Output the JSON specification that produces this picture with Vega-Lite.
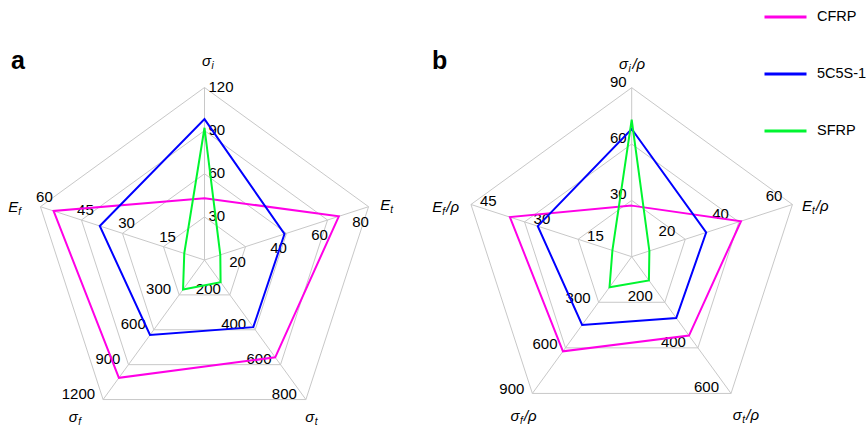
{
  "$schema": "https://vega.github.io/schema/vega-lite/v6.json",
  "padding": 0,
  "spacing": 0,
  "background": "white",
  "config": {
    "view": {"stroke": null},
    "font": "Liberation Sans",
    "text": {"font": "Liberation Sans", "color": "black"}
  },
  "datasets": {
    "series": [
      {"panel": "a", "series": "CFRP", "k": 0, "v": 43},
      {"panel": "a", "series": "CFRP", "k": 1, "v": 65.5},
      {"panel": "a", "series": "CFRP", "k": 2, "v": 558},
      {"panel": "a", "series": "CFRP", "k": 3, "v": 1013},
      {"panel": "a", "series": "CFRP", "k": 4, "v": 55.2},
      {"panel": "a", "series": "5C5S-1", "k": 0, "v": 98},
      {"panel": "a", "series": "5C5S-1", "k": 1, "v": 39},
      {"panel": "a", "series": "5C5S-1", "k": 2, "v": 385},
      {"panel": "a", "series": "5C5S-1", "k": 3, "v": 645},
      {"panel": "a", "series": "5C5S-1", "k": 4, "v": 38.3},
      {"panel": "a", "series": "SFRP", "k": 0, "v": 92},
      {"panel": "a", "series": "SFRP", "k": 1, "v": 7.7},
      {"panel": "a", "series": "SFRP", "k": 2, "v": 127},
      {"panel": "a", "series": "SFRP", "k": 3, "v": 254},
      {"panel": "a", "series": "SFRP", "k": 4, "v": 7.4},
      {"panel": "b", "series": "CFRP", "k": 0, "v": 27.2},
      {"panel": "b", "series": "CFRP", "k": 1, "v": 40.8},
      {"panel": "b", "series": "CFRP", "k": 2, "v": 346},
      {"panel": "b", "series": "CFRP", "k": 3, "v": 623},
      {"panel": "b", "series": "CFRP", "k": 4, "v": 34.1},
      {"panel": "b", "series": "5C5S-1", "k": 0, "v": 68},
      {"panel": "b", "series": "5C5S-1", "k": 1, "v": 27.8},
      {"panel": "b", "series": "5C5S-1", "k": 2, "v": 269},
      {"panel": "b", "series": "5C5S-1", "k": 3, "v": 449},
      {"panel": "b", "series": "5C5S-1", "k": 4, "v": 26.3},
      {"panel": "b", "series": "SFRP", "k": 0, "v": 73},
      {"panel": "b", "series": "SFRP", "k": 1, "v": 6.6},
      {"panel": "b", "series": "SFRP", "k": 2, "v": 104},
      {"panel": "b", "series": "SFRP", "k": 3, "v": 201},
      {"panel": "b", "series": "SFRP", "k": 4, "v": 5.4}
    ],
    "rings_a": [
      {"k": 0, "t": 30}, {"k": 0, "t": 60}, {"k": 0, "t": 90}, {"k": 0, "t": 120},
      {"k": 1, "t": 20}, {"k": 1, "t": 40}, {"k": 1, "t": 60}, {"k": 1, "t": 80},
      {"k": 2, "t": 200}, {"k": 2, "t": 400}, {"k": 2, "t": 600}, {"k": 2, "t": 800},
      {"k": 3, "t": 300}, {"k": 3, "t": 600}, {"k": 3, "t": 900}, {"k": 3, "t": 1200},
      {"k": 4, "t": 15}, {"k": 4, "t": 30}, {"k": 4, "t": 45}, {"k": 4, "t": 60}
    ],
    "rings_b": [
      {"k": 0, "t": 30}, {"k": 0, "t": 60}, {"k": 0, "t": 90},
      {"k": 1, "t": 20}, {"k": 1, "t": 40}, {"k": 1, "t": 60},
      {"k": 2, "t": 200}, {"k": 2, "t": 400}, {"k": 2, "t": 600},
      {"k": 3, "t": 300}, {"k": 3, "t": 600}, {"k": 3, "t": 900},
      {"k": 4, "t": 15}, {"k": 4, "t": 30}, {"k": 4, "t": 45}
    ],
    "titles_a": [
      {"k": 0, "main": "σ", "sub": "i"},
      {"k": 1, "main": "E", "sub": "t"},
      {"k": 2, "main": "σ", "sub": "t"},
      {"k": 3, "main": "σ", "sub": "f"},
      {"k": 4, "main": "E", "sub": "f"}
    ],
    "titles_b": [
      {"k": 0, "main": "σ", "sub": "i", "suffix": "/ρ"},
      {"k": 1, "main": "E", "sub": "t", "suffix": "/ρ"},
      {"k": 2, "main": "σ", "sub": "t", "suffix": "/ρ"},
      {"k": 3, "main": "σ", "sub": "f", "suffix": "/ρ"},
      {"k": 4, "main": "E", "sub": "f", "suffix": "/ρ"}
    ]
  },
  "resolve": {"scale": {"color": "shared"}, "legend": {"color": "shared"}},
  "hconcat": [
    {
      "width": 425,
      "height": 428,
      "title": {"text": "a", "anchor": "start", "frame": "group", "orient": "top", "offset": -94, "dx": 11, "baseline": "alphabetic", "fontSize": 25, "fontWeight": "bold", "font": "Liberation Sans", "color": "black"},
      "encoding": {
        "x": {"field": "px", "type": "quantitative", "scale": {"domain": [-1.18551, 1.27826], "nice": false, "zero": false}, "axis": null},
        "y": {"field": "py", "type": "quantitative", "scale": {"domain": [-0.97391, 1.50725], "nice": false, "zero": false}, "axis": null}
      },
      "layer": [
        {
          "data": {"name": "rings_a"},
          "transform": [
            {"calculate": "datum.t / [120,80,800,1200,60][datum.k]", "as": "f"},
            {"calculate": "datum.f * sin(datum.k * 2 * PI / 5)", "as": "px"},
            {"calculate": "datum.f * cos(datum.k * 2 * PI / 5)", "as": "py"}
          ],
          "layer": [
            {
              "mark": {"type": "line", "interpolate": "linear-closed", "color": "#c8c8c8", "strokeWidth": 1},
              "encoding": {"detail": {"field": "f", "type": "nominal"}, "order": {"field": "k", "type": "quantitative"}}
            },
            {
              "transform": [{"filter": "datum.f > 0.99"}],
              "mark": {"type": "rule", "color": "#c8c8c8", "strokeWidth": 1},
              "encoding": {"x2": {"datum": 0}, "y2": {"datum": 0}}
            },
            {"transform": [{"filter": "datum.k == 0"}], "mark": {"type": "text", "align": "left", "baseline": "middle", "dx": 4, "dy": -1, "fontSize": 15}, "encoding": {"text": {"field": "t", "type": "quantitative", "format": "d"}}},
            {"transform": [{"filter": "datum.k == 1"}], "mark": {"type": "text", "align": "center", "baseline": "middle", "dx": -8, "dy": 15, "fontSize": 15}, "encoding": {"text": {"field": "t", "type": "quantitative", "format": "d"}}},
            {"transform": [{"filter": "datum.k == 2"}], "mark": {"type": "text", "align": "right", "baseline": "middle", "dx": -9, "dy": -6, "fontSize": 15}, "encoding": {"text": {"field": "t", "type": "quantitative", "format": "d"}}},
            {"transform": [{"filter": "datum.k == 3"}], "mark": {"type": "text", "align": "right", "baseline": "middle", "dx": -8, "dy": -6, "fontSize": 15}, "encoding": {"text": {"field": "t", "type": "quantitative", "format": "d"}}},
            {"transform": [{"filter": "datum.k == 4"}], "mark": {"type": "text", "align": "center", "baseline": "middle", "dx": 4, "dy": -10, "fontSize": 15}, "encoding": {"text": {"field": "t", "type": "quantitative", "format": "d"}}}
          ]
        },
        {
          "data": {"name": "series"},
          "transform": [
            {"filter": "datum.panel == 'a'"},
            {"calculate": "datum.v / [120,80,800,1200,60][datum.k]", "as": "f"},
            {"calculate": "datum.f * sin(datum.k * 2 * PI / 5)", "as": "px"},
            {"calculate": "datum.f * cos(datum.k * 2 * PI / 5)", "as": "py"}
          ],
          "mark": {"type": "line", "interpolate": "linear-closed", "strokeWidth": 2},
          "encoding": {
            "color": {"field": "series", "type": "nominal", "scale": {"domain": ["CFRP", "5C5S-1", "SFRP"], "range": ["#ff00e6", "#0000ff", "#00f530"]},
              "legend": {"title": null, "orient": "none", "legendX": 763, "legendY": 9, "symbolType": "stroke", "symbolSize": 1764, "symbolStrokeWidth": 3, "clipHeight": 16, "labelFontSize": 14.5, "labelFont": "Liberation Sans", "labelColor": "black", "labelOffset": 9, "rowPadding": 41}},
            "detail": {"field": "series", "type": "nominal"},
            "order": {"field": "k", "type": "quantitative"}
          }
        },
        {
          "data": {"name": "titles_a"},
          "transform": [
            {"calculate": "[0.012, 1.048, 0.610, -0.761, -1.108][datum.k]", "as": "px"},
            {"calculate": "[1.154, 0.319, -0.913, -0.913, 0.309][datum.k]", "as": "py"}
          ],
          "layer": [
            {"mark": {"type": "text", "align": "center", "baseline": "middle", "fontSize": 15, "fontStyle": "italic"}, "encoding": {"text": {"field": "main"}}},
            {"mark": {"type": "text", "align": "left", "baseline": "middle", "dx": 5, "dy": 5, "fontSize": 10, "fontStyle": "italic"}, "encoding": {"text": {"field": "sub"}}}
          ]
        }
      ]
    },
    {
      "width": 442,
      "height": 428,
      "title": {"text": "b", "anchor": "start", "frame": "group", "orient": "top", "offset": -94, "dx": 7, "baseline": "alphabetic", "fontSize": 25, "fontWeight": "bold", "font": "Liberation Sans", "color": "black"},
      "encoding": {
        "x": {"field": "px", "type": "quantitative", "scale": {"domain": [-1.22308, 1.39231], "nice": false, "zero": false}, "axis": null},
        "y": {"field": "py", "type": "quantitative", "scale": {"domain": [-1.01361, 1.51893], "nice": false, "zero": false}, "axis": null}
      },
      "layer": [
        {
          "data": {"name": "rings_b"},
          "transform": [
            {"calculate": "datum.t / [90,60,600,900,45][datum.k]", "as": "f"},
            {"calculate": "datum.f * sin(datum.k * 2 * PI / 5)", "as": "px"},
            {"calculate": "datum.f * cos(datum.k * 2 * PI / 5)", "as": "py"}
          ],
          "layer": [
            {
              "mark": {"type": "line", "interpolate": "linear-closed", "color": "#c8c8c8", "strokeWidth": 1},
              "encoding": {"detail": {"field": "f", "type": "nominal"}, "order": {"field": "k", "type": "quantitative"}}
            },
            {
              "transform": [{"filter": "datum.f > 0.99"}],
              "mark": {"type": "rule", "color": "#c8c8c8", "strokeWidth": 1},
              "encoding": {"x2": {"datum": 0}, "y2": {"datum": 0}}
            },
            {"transform": [{"filter": "datum.k == 0"}], "mark": {"type": "text", "align": "right", "baseline": "middle", "dx": -5, "dy": -6, "fontSize": 15}, "encoding": {"text": {"field": "t", "type": "quantitative", "format": "d"}}},
            {"transform": [{"filter": "datum.k == 1"}], "mark": {"type": "text", "align": "right", "baseline": "middle", "dx": -10, "dy": -8, "fontSize": 15}, "encoding": {"text": {"field": "t", "type": "quantitative", "format": "d"}}},
            {"transform": [{"filter": "datum.k == 2"}], "mark": {"type": "text", "align": "right", "baseline": "middle", "dx": -12, "dy": -6, "fontSize": 15}, "encoding": {"text": {"field": "t", "type": "quantitative", "format": "d"}}},
            {"transform": [{"filter": "datum.k == 3"}], "mark": {"type": "text", "align": "right", "baseline": "middle", "dx": -8, "dy": -4, "fontSize": 15}, "encoding": {"text": {"field": "t", "type": "quantitative", "format": "d"}}},
            {"transform": [{"filter": "datum.k == 4"}], "mark": {"type": "text", "align": "left", "baseline": "middle", "dx": 9, "dy": -3, "fontSize": 15}, "encoding": {"text": {"field": "t", "type": "quantitative", "format": "d"}}}
          ]
        },
        {
          "data": {"name": "series"},
          "transform": [
            {"filter": "datum.panel == 'b'"},
            {"calculate": "datum.v / [90,60,600,900,45][datum.k]", "as": "f"},
            {"calculate": "datum.f * sin(datum.k * 2 * PI / 5)", "as": "px"},
            {"calculate": "datum.f * cos(datum.k * 2 * PI / 5)", "as": "py"}
          ],
          "mark": {"type": "line", "interpolate": "linear-closed", "strokeWidth": 2},
          "encoding": {
            "color": {"field": "series", "type": "nominal", "scale": {"domain": ["CFRP", "5C5S-1", "SFRP"], "range": ["#ff00e6", "#0000ff", "#00f530"]},
              "legend": {"title": null, "orient": "none", "legendX": 763, "legendY": 9, "symbolType": "stroke", "symbolSize": 1764, "symbolStrokeWidth": 3, "clipHeight": 16, "labelFontSize": 14.5, "labelFont": "Liberation Sans", "labelColor": "black", "labelOffset": 9, "rowPadding": 41}},
            "detail": {"field": "series", "type": "nominal"},
            "order": {"field": "k", "type": "quantitative"}
          }
        },
        {
          "data": {"name": "titles_b"},
          "transform": [
            {"calculate": "[-0.049, 1.037, 0.625, -0.691, -1.150][datum.k]", "as": "px"},
            {"calculate": "[1.140, 0.300, -0.937, -0.943, 0.296][datum.k]", "as": "py"}
          ],
          "layer": [
            {"mark": {"type": "text", "align": "center", "baseline": "middle", "fontSize": 15, "fontStyle": "italic"}, "encoding": {"text": {"field": "main"}}},
            {"mark": {"type": "text", "align": "left", "baseline": "middle", "dx": 5, "dy": 5, "fontSize": 10, "fontStyle": "italic"}, "encoding": {"text": {"field": "sub"}}},
            {"mark": {"type": "text", "align": "left", "baseline": "middle", "dx": 9, "fontSize": 15, "fontStyle": "italic"}, "encoding": {"text": {"field": "suffix"}}}
          ]
        }
      ]
    }
  ]
}
